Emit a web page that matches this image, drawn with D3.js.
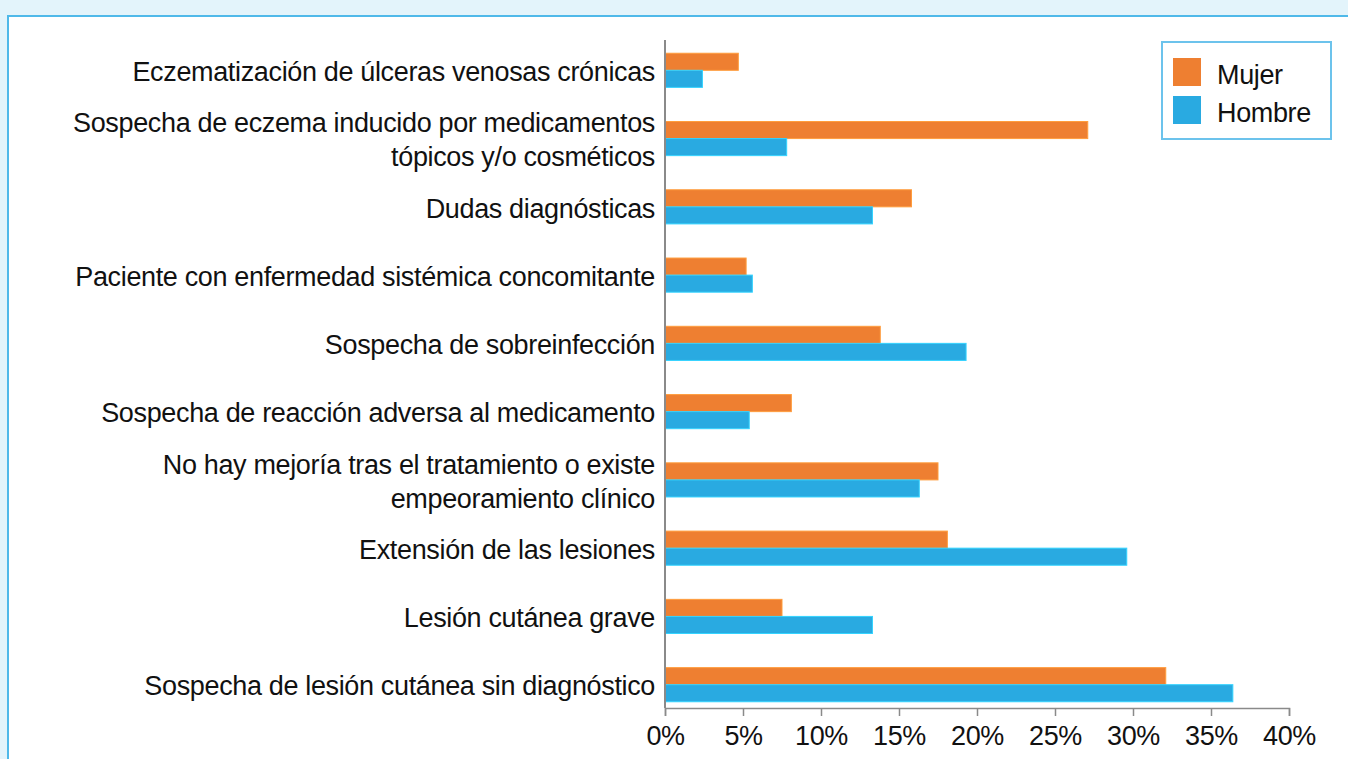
<!DOCTYPE html>
<html>
<head>
<meta charset="utf-8">
<script src="https://cdn.jsdelivr.net/npm/d3@7"></script>
<style>
  body { margin: 0; background: #e3f4fb; }
  svg { display: block; font-family: "Liberation Sans", Arial, sans-serif; }
</style>
</head>
<body>
<div id="chart"></div>
<script>
// Categories (top to bottom), "\n" marks a line break in the label
const categories = [
  "Eczematización de úlceras venosas crónicas",
  "Sospecha de eczema inducido por medicamentos\ntópicos y/o cosméticos",
  "Dudas diagnósticas",
  "Paciente con enfermedad sistémica concomitante",
  "Sospecha de sobreinfección",
  "Sospecha de reacción adversa al medicamento",
  "No hay mejoría tras el tratamiento o existe\nempeoramiento clínico",
  "Extensión de las lesiones",
  "Lesión cutánea grave",
  "Sospecha de lesión cutánea sin diagnóstico"
];

// Percentages per series
const mujer  = [4.7, 27.1, 15.8, 5.2, 13.8, 8.1, 17.5, 18.1, 7.5, 32.1];
const hombre = [2.4, 7.8, 13.3, 5.6, 19.3, 5.4, 16.3, 29.6, 13.3, 36.4];

const seriesNames = ["Mujer", "Hombre"];
const colors = ["#ee7f31", "#29aae1"];
const xTicks = [0, 5, 10, 15, 20, 25, 30, 35, 40];

const W = 1348, H = 759;
const svg = d3.select("#chart").append("svg")
    .attr("width", W)
    .attr("height", H);

// White panel with a light blue border
svg.append("rect")
    .attr("x", 8).attr("y", 16)
    .attr("width", W + 20).attr("height", H + 20)
    .attr("fill", "#fff")
    .attr("stroke", "#4fb9e9")
    .attr("stroke-width", 2);

const x = d3.scaleLinear().domain([0, 40]).range([665, 1289]);

const y = d3.scaleBand()
    .domain(categories)
    .range([43, 712])
    .paddingInner(0.5)
    .paddingOuter(0.15);

const ySub = d3.scaleBand()
    .domain(seriesNames)
    .range([0, y.bandwidth()]);

const rows = categories.map((c, i) => ({ cat: c, values: [mujer[i], hombre[i]] }));

const groups = svg.selectAll("g.row")
    .data(rows)
    .enter().append("g")
    .attr("class", "row")
    .attr("transform", d => `translate(0,${y(d.cat)})`);

groups.selectAll("rect")
    .data(d => d.values.map((v, j) => ({ name: seriesNames[j], v, color: colors[j] })))
    .enter().append("rect")
    .attr("x", x(0))
    .attr("y", d => ySub(d.name))
    .attr("width", d => x(d.v) - x(0))
    .attr("height", ySub.bandwidth())
    .attr("fill", d => d.color)
    .attr("stroke", d => d3.color(d.color).brighter(0.6))
    .attr("stroke-width", 1);

// X axis
const xAxis = svg.append("g")
    .attr("transform", "translate(0,708)")
    .call(d3.axisBottom(x).tickValues(xTicks).tickFormat(d => d + "%").tickSize(8).tickPadding(10));
xAxis.select(".domain").attr("stroke", "#8a8a8a").attr("stroke-width", 1.5);
xAxis.selectAll(".tick line").attr("stroke", "#8a8a8a").attr("stroke-width", 1.5);
xAxis.selectAll(".tick text")
    .attr("fill", "#111")
    .style("font-size", "27px")
    .style("letter-spacing", "-0.4px");

// Y axis line
svg.append("line")
    .attr("x1", x(0)).attr("x2", x(0))
    .attr("y1", 40).attr("y2", 708)
    .attr("stroke", "#8a8a8a")
    .attr("stroke-width", 2);

// Category labels (multi-line)
const lineH = 34;
svg.selectAll("text.cat")
    .data(categories)
    .enter().append("text")
    .attr("class", "cat")
    .attr("text-anchor", "end")
    .attr("fill", "#111")
    .style("font-size", "27px")
    .style("letter-spacing", "-0.35px")
    .each(function(d) {
        const lines = d.split("\n");
        const cy = y(d) + y.bandwidth() / 2;
        const t = d3.select(this);
        lines.forEach((ln, k) => {
            t.append("tspan")
                .attr("x", 655)
                .attr("y", cy + (k - (lines.length - 1) / 2) * lineH)
                .attr("dy", "0.4em")
                .text(ln);
        });
    });

// Legend
const legend = svg.append("g");
legend.append("rect")
    .attr("x", 1162).attr("y", 42)
    .attr("width", 169).attr("height", 97)
    .attr("fill", "#fff")
    .attr("stroke", "#6cc3ec")
    .attr("stroke-width", 2);

seriesNames.forEach((name, i) => {
    legend.append("rect")
        .attr("x", 1173)
        .attr("y", 58 + i * 38)
        .attr("width", 28)
        .attr("height", 28)
        .attr("fill", colors[i]);
    legend.append("text")
        .attr("x", 1217)
        .attr("y", 73 + i * 38)
        .attr("dy", "0.4em")
        .attr("fill", "#111")
        .style("font-size", "27px")
        .style("letter-spacing", "-0.35px")
        .text(name);
});
</script>
</body>
</html>
